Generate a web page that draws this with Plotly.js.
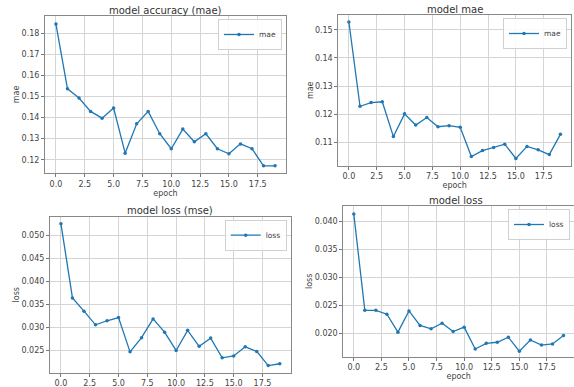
<!DOCTYPE html>
<html>
<head>
<meta charset="utf-8">
<script src="https://cdn.plot.ly/plotly-3.0.1.min.js"></script>
<style>html,body{margin:0;padding:0;background:#fff;}#chart{width:574px;height:387px;}</style>
</head>
<body>
<div id="chart"></div>
<script>
var epochs = [0,1,2,3,4,5,6,7,8,9,10,11,12,13,14,15,16,17,18,19];
var maeAccuracy = [0.1843,0.1536,0.1492,0.1429,0.1397,0.1445,0.1231,0.1370,0.1429,0.1323,0.1252,0.1345,0.1285,0.1323,0.1252,0.1228,0.1275,0.1252,0.1171,0.1171];
var maeModel = [0.1528,0.1228,0.1241,0.1244,0.1120,0.1201,0.1161,0.1188,0.1155,0.1159,0.1153,0.1049,0.1070,0.1081,0.1093,0.1042,0.1085,0.1073,0.1056,0.1128];
var lossMse = [0.0526,0.0364,0.0335,0.0305,0.0314,0.0321,0.0246,0.0277,0.0318,0.0289,0.0249,0.0293,0.0258,0.0276,0.0233,0.0237,0.0257,0.0247,0.0216,0.0220];
var lossModel = [0.0413,0.0241,0.0241,0.0234,0.0202,0.0240,0.0214,0.0208,0.0218,0.0203,0.0211,0.0172,0.0182,0.0184,0.0193,0.0168,0.0188,0.0179,0.0181,0.0196];
var panelTitles = ["model accuracy (mae)", "model mae", "model loss (mse)", "model loss"];
var seriesNames = ["mae", "mae", "loss", "loss"];
var yTitles = ["mae", "mae", "loss", "loss"];
var xTitles = ["epoch", "epoch", "", "epoch"];

var W = 574, H = 387;
var blue = "#1f77b4";
var font = "DejaVu Sans, Liberation Sans, sans-serif";

function px(x){ return x / W; }
function py(y){ return 1 - y / H; }

var series = [maeAccuracy, maeModel, lossMse, lossModel];
var axes = [["x","y"],["x2","y2"],["x3","y3"],["x4","y4"]];
var legendIds = ["legend","legend2","legend3","legend4"];

var traces = series.map(function(s, i){
  return {
    x: epochs, y: s, type: "scatter", mode: "lines+markers",
    name: seriesNames[i], xaxis: axes[i][0], yaxis: axes[i][1],
    legend: legendIds[i],
    line: {color: blue, width: 1.3},
    marker: {color: blue, size: 3.5}
  };
});

// panel boxes in pixels: [left, right, top, bottom]
var boxes = [[45,286,16,173],[338.3,571,15,165.5],[50,290.7,216.7,372.7],[343.3,574,206,356.7]];
var yRanges = [[0.1137,0.1881],[0.1017,0.1553],[0.02004,0.05415],[0.01582,0.04273]];
var yDticks = [0.01,0.01,0.005,0.005];
var yFormats = [".2f",".2f",".3f",".3f"];
var titleY = [11, 9, 210, 200.5];

function xa(i){
  return {
    domain: [px(boxes[i][0]), px(boxes[i][1])],
    anchor: axes[i][1],
    range: [-0.95, 19.95], dtick: 2.5, tick0: 0, tickformat: ".1f",
    showgrid: true, gridcolor: "#d4d4d4", gridwidth: 1,
    zeroline: false, showline: true, linecolor: "#888", linewidth: 1, mirror: true,
    ticks: "outside", ticklen: 3, tickcolor: "#777",
    tickfont: {size: 8, color: "#444", family: font},
    title: {text: xTitles[i], font: {size: 8, color: "#444", family: font}, standoff: 2}
  };
}
function ya(i){
  return {
    domain: [py(boxes[i][3]), py(boxes[i][2])],
    anchor: axes[i][0],
    range: yRanges[i], dtick: yDticks[i], tick0: 0, tickformat: yFormats[i],
    showgrid: true, gridcolor: "#d4d4d4", gridwidth: 1,
    zeroline: false, showline: true, linecolor: "#888", linewidth: 1, mirror: true,
    ticks: "outside", ticklen: 3, tickcolor: "#777",
    tickfont: {size: 8, color: "#444", family: font},
    title: {text: yTitles[i], font: {size: 8, color: "#444", family: font}, standoff: 0}
  };
}
function lg(i){
  return {
    x: px(boxes[i][1] - 4), y: py(boxes[i][2] + 3), xanchor: "right", yanchor: "top",
    xref: "paper", yref: "paper",
    bgcolor: "rgba(255,255,255,0.85)", bordercolor: "#d0d0d0", borderwidth: 1,
    font: {size: 7.5, color: "#444", family: font},
    itemwidth: 30, tracegroupgap: 0
  };
}

var layout = {
  width: W, height: H,
  margin: {l: 0, r: 0, t: 0, b: 0},
  paper_bgcolor: "#fff", plot_bgcolor: "#fff",
  font: {family: font, color: "#444"},
  showlegend: true,
  annotations: panelTitles.map(function(t, i){
    return {
      text: t, xref: "paper", yref: "paper",
      x: px((boxes[i][0] + boxes[i][1]) / 2 + (i === 3 ? -3 : 0)), y: py(titleY[i]),
      xanchor: "center", yanchor: "middle", showarrow: false,
      font: {size: 10, color: "#333", family: font}
    };
  })
};
for (var i = 0; i < 4; i++){
  var xk = i === 0 ? "xaxis" : "xaxis" + (i+1);
  var yk = i === 0 ? "yaxis" : "yaxis" + (i+1);
  layout[xk] = xa(i);
  layout[yk] = ya(i);
  layout[legendIds[i]] = lg(i);
}

Plotly.newPlot("chart", traces, layout, {displayModeBar: false, staticPlot: true});
</script>
</body>
</html>
